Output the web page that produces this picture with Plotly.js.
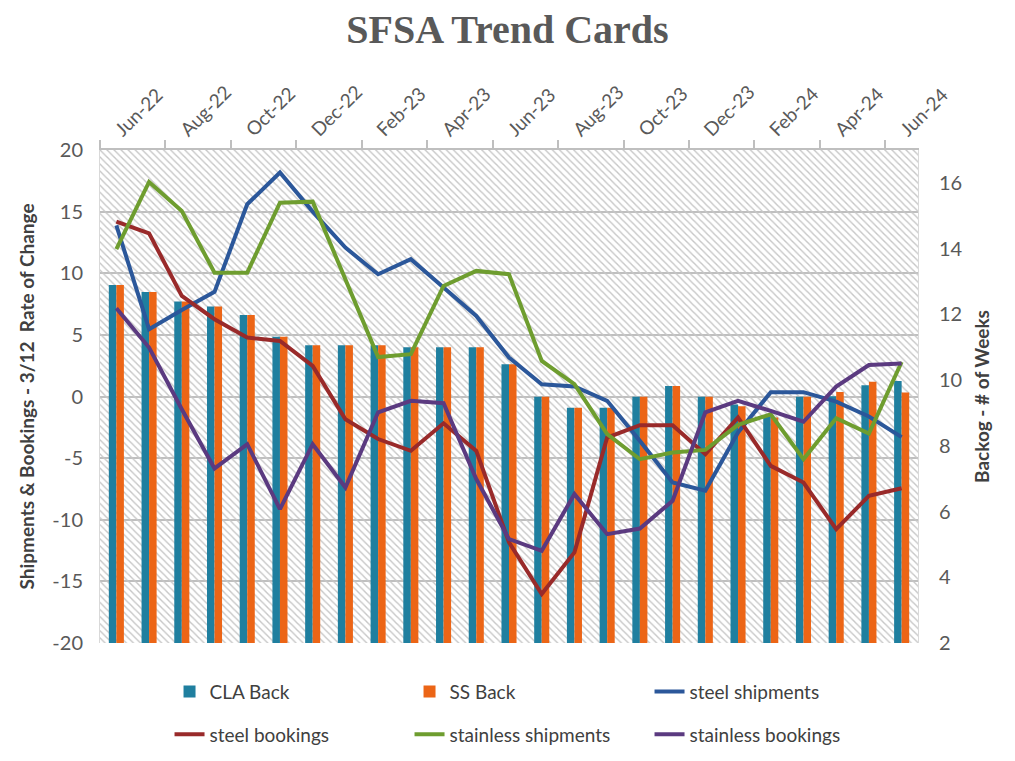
<!DOCTYPE html>
<html>
<head>
<meta charset="utf-8">
<script src="https://cdn.plot.ly/plotly-3.0.1.min.js"></script>
<style>
  html, body { margin: 0; padding: 0; background: #fff; }
  #chart { width: 1015px; height: 761px; }
</style>
</head>
<body>
<div id="chart"></div>
<script>
// Monthly categories, Jun-22 .. Jun-24
const months = [
  'Jun-22', 'Jul-22', 'Aug-22', 'Sep-22', 'Oct-22', 'Nov-22', 'Dec-22',
  'Jan-23', 'Feb-23', 'Mar-23', 'Apr-23', 'May-23', 'Jun-23', 'Jul-23',
  'Aug-23', 'Sep-23', 'Oct-23', 'Nov-23', 'Dec-23', 'Jan-24', 'Feb-24',
  'Mar-24', 'Apr-24', 'May-24', 'Jun-24',
];

// Backlog, # of weeks (right axis)
const claBack = [12.89, 12.68, 12.39, 12.24, 11.98, 11.32, 11.06, 11.06, 11.06, 11.0, 11.0, 11.0,
  10.48, 9.49, 9.16, 9.16, 9.49, 9.82, 9.49, 9.26, 8.9, 9.49, 9.51, 9.84, 9.97];
const ssBack = [12.89, 12.68, 12.39, 12.24, 11.98, 11.32, 11.06, 11.06, 11.06, 11.0, 11.0, 11.0,
  10.48, 9.49, 9.16, 9.16, 9.49, 9.82, 9.49, 9.2, 8.86, 9.49, 9.64, 9.95, 9.62];

// 3/12 rate of change (left axis)
const steelShipments = [13.89, 5.46, 7.02, 8.49, 15.6, 18.17, 15.0, 12.08, 9.92, 11.14, 8.84, 6.54,
  3.16, 1.0, 0.81, -0.35, -3.6, -6.98, -7.65, -2.92, 0.35, 0.35, -0.42, -1.62, -3.3];
const steelBookings = [14.19, 13.24, 8.16, 6.27, 4.78, 4.51, 2.48, -1.84, -3.45, -4.41, -2.17, -4.41,
  -11.84, -16.03, -12.65, -3.33, -2.33, -2.33, -4.68, -1.7, -5.63, -6.98, -10.76, -8.06, -7.44];
const stainlessShipments = [11.95, 17.41, 15.05, 10.05, 10.05, 15.73, 15.81, 9.5, 3.2, 3.43, 8.97, 10.19,
  9.92, 2.89, 1.0, -3.06, -5.09, -4.54, -4.33, -2.3, -1.44, -5.09, -1.76, -3.0, 2.8];
const stainlessBookings = [7.16, 3.97, -1.03, -5.84, -3.87, -9.14, -3.87, -7.38, -1.28, -0.35, -0.54, -6.7,
  -11.57, -12.52, -7.92, -11.17, -10.71, -8.46, -1.28, -0.35, -1.17, -2.05, 0.8, 2.55, 2.68];

// left axis ticks, written with a plain hyphen like the original
const rateTicks = [-20, -15, -10, -5, 0, 5, 10, 15, 20];

const TEAL = '#1f7f9f';
const ORANGE = '#ec6516';
const GRID = '#bfbfbf';
const TEXT = '#595959';
const FONT = 'Lato, "Open Sans", sans-serif';

// hatched plot background: one bar spanning every month, left-axis range
const hatch = {
  type: 'bar',
  x: [months[Math.floor(months.length / 2)]],
  y: [40], base: [-20], width: [months.length],
  yaxis: 'y',
  marker: {
    color: '#c6c6c6',
    line: { width: 0 },
    pattern: { shape: '\\', size: 5, solidity: 0.28, fgcolor: '#c6c6c6', bgcolor: 'rgba(0,0,0,0)' },
  },
  showlegend: false,
  hoverinfo: 'skip',
};

function backBar(name, values, color, offset) {
  return {
    type: 'bar', name, x: months, y: values, yaxis: 'y2',
    offset, width: 0.23,
    marker: { color, line: { width: 0 } },
    legend: 'legend',
  };
}

function rateLine(name, values, color, legend) {
  return {
    type: 'scatter', mode: 'lines', name, x: months, y: values, yaxis: 'y3',
    line: { color, width: 4 },
    legend,
  };
}

const traces = [
  hatch,
  backBar('CLA Back', claBack, TEAL, -0.23),
  backBar('SS Back', ssBack, ORANGE, 0),
  rateLine('steel shipments', steelShipments, '#2b579a', 'legend'),
  rateLine('steel bookings', steelBookings, '#992a2a', 'legend2'),
  rateLine('stainless shipments', stainlessShipments, '#6e9d2f', 'legend2'),
  rateLine('stainless bookings', stainlessBookings, '#5b3a80', 'legend2'),
];

const legendBase = {
  orientation: 'h',
  x: 0.085, xanchor: 'left', yref: 'container', yanchor: 'top',
  entrywidth: 195, entrywidthmode: 'pixels',
  traceorder: 'normal',
  bgcolor: 'rgba(0,0,0,0)',
  font: { family: FONT, size: 19, color: '#404040' },
};

const layout = {
  width: 1015, height: 761,
  margin: { l: 100, r: 97, t: 150, b: 118 },
  paper_bgcolor: '#fff', plot_bgcolor: '#fff',
  barmode: 'overlay',
  showlegend: true,
  title: {
    text: '<b>SFSA Trend Cards</b>',
    x: 0.5, xref: 'container', xanchor: 'center',
    y: 0.962, yref: 'container', yanchor: 'middle',
    font: { family: '"Liberation Serif", "DejaVu Serif", serif', size: 40, color: TEXT },
  },
  xaxis: {
    type: 'category', categoryorder: 'array', categoryarray: months,
    range: [-0.5, months.length - 0.5],
    side: 'top', tickangle: -45, dtick: 2, tickson: 'boundaries',
    ticks: 'outside', ticklen: 8, tickwidth: 2, tickcolor: GRID,
    showline: true, linecolor: GRID, linewidth: 2,
    showgrid: false, zeroline: false,
    tickfont: { family: FONT, size: 19, color: TEXT },
  },
  yaxis: {
    range: [-20, 20],
    tickmode: 'array', tickvals: rateTicks, ticktext: rateTicks.map(String),
    showgrid: true, gridcolor: GRID, gridwidth: 2, zeroline: false,
    showline: true, linecolor: '#d9d9d9', linewidth: 1,
    ticks: '', ticklabelstandoff: 12,
    tickfont: { family: FONT, size: 20, color: TEXT },
    title: {
      text: '<b>Shipments & Bookings - 3/12  Rate of Change</b>',
      font: { family: FONT, size: 19, color: '#404040' },
      standoff: 12,
    },
  },
  yaxis2: {
    overlaying: 'y', side: 'right',
    range: [2, 17], tick0: 2, dtick: 2,
    showgrid: false, zeroline: false,
    showline: true, linecolor: '#d9d9d9', linewidth: 1,
    ticks: '', ticklabelstandoff: 16,
    tickfont: { family: FONT, size: 20, color: TEXT },
    title: {
      text: '<b>Backog - # of Weeks</b>',
      font: { family: FONT, size: 19, color: '#404040' },
      standoff: 14,
    },
  },
  yaxis3: { overlaying: 'y', range: [-20, 20], visible: false },
  legend: Object.assign({}, legendBase, { y: 0.116 }),
  legend2: Object.assign({}, legendBase, { y: 0.060 }),
};

Plotly.newPlot('chart', traces, layout, { displayModeBar: false, responsive: false });
</script>
</body>
</html>
